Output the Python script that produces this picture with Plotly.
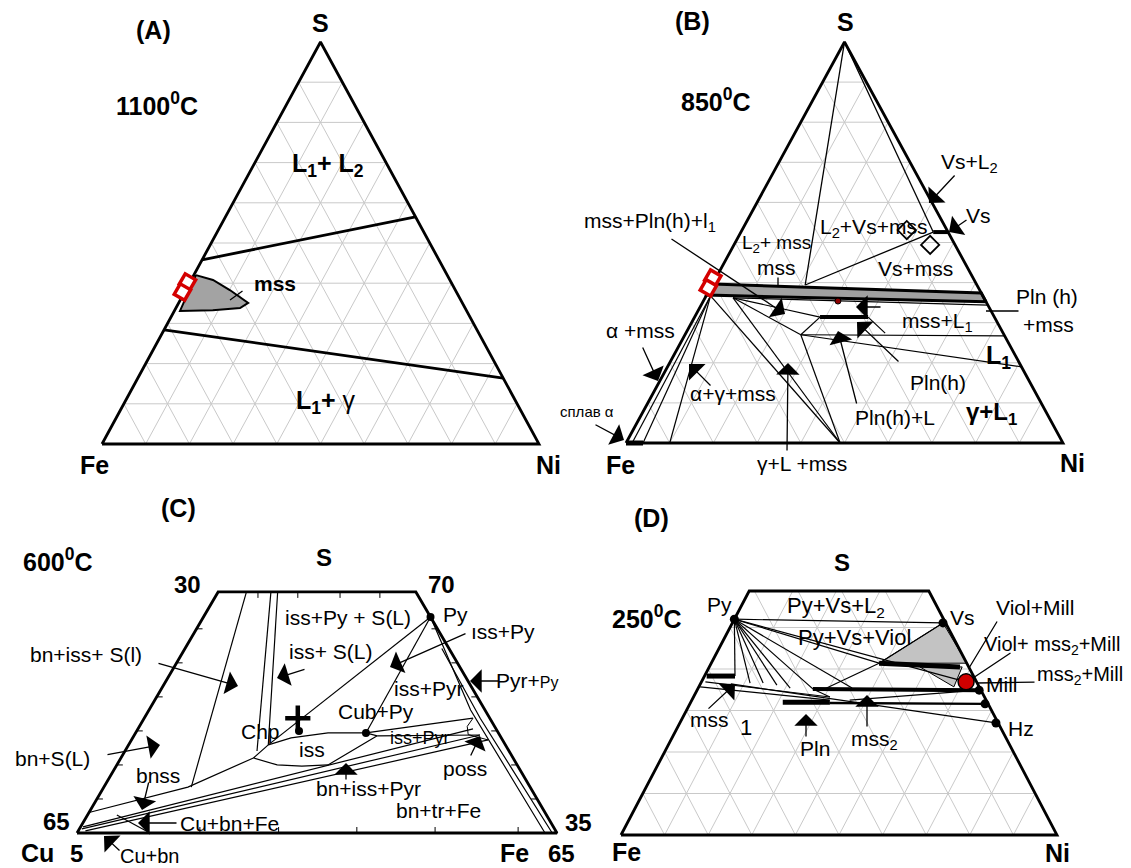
import plotly.graph_objects as go

# ---------------- panel frames (left base vertex x, base width, base y, full triangle height) ----
FRAME_A = (102, 437, 444, 402)
FRAME_B = (626, 437, 443, 401)
FRAME_C = (77, 480, 833, 410)
FRAME_D = (621, 436, 835, 415)
S_CUT = 58.8   # top cut (S %) of the partial diagrams C and D

# ---------------- data: compositions in %, (S = apex component, R = right-vertex component) ----
# Panel A (Fe-Ni-S, 1100 C)
A_UPPER_S, A_UPPER_NI = [45.8, 56.5], [0, 43.5]
A_LOWER_S, A_LOWER_NI = [28.4, 16.4], [0, 83.6]
A_MSS_S = [42.0, 40.8, 38.3, 35.1, 33.8, 33.3, 33.1, 42.0]
A_MSS_NI = [0.5, 5.0, 10.1, 15.9, 14.7, 8.7, 1.3, 0.5]
A_RED_S, A_RED_NI = [40.3, 37.8], [-0.6, -0.5]

# Panel B (Fe-Ni-S, 850 C)
B_APEX_S, B_APEX_NI = [100, 39.4], [0, 21.3]
B_L2_S, B_L2_NI = [100, 52.6], [0, 44.0]
B_TIE_S, B_TIE_NI = [39.4, 52.6], [21.3, 44.0]
B_VS_S, B_VS_NI = [52.6, 52.6], [44.0, 47.4]
B_BAND_S = [39.65, 37.4, 35.2, 36.9, 39.65]
B_BAND_NI = [0.0, 62.6, 64.8, 0.0, 0.0]
B_DIAM_S, B_DIAM_NI = [53.1, 49.4], [37.7, 44.9]
B_DOT_S, B_DOT_NI = [35.4], [30.8]
B_RED_S, B_RED_NI = [41.1, 38.7], [-0.7, -0.5]
B_PLN_S, B_PLN_NI = [31.4, 31.4], [28.7, 39.7]
B_ALLOY_S, B_ALLOY_NI = [0, 0], [0, 3.9]
B_THIN_S = [36.2, 34.4, None, 36.7, 0, None, 36.2, 0, None, 27.0, 0, None,
            36.2, 27.0, None, 36.2, 31.4, None, 27.0, 31.4, None, 27.0, 19.0, None,
            27.0, 26.7, None, 31.4, 27.4, None, 36.7, 0, None, 36.7, 0, None, 36.7, 0]
B_THIN_NI = [6.4, 65.6, None, 1.0, 49.0, None, 6.4, 49.0, None, 26.5, 49.0, None,
             6.4, 26.5, None, 6.4, 28.7, None, 26.5, 28.7, None, 26.5, 81.0, None,
             26.5, 73.3, None, 39.7, 45.6, None, 1.0, 3.9, None, 1.0, 10.0, None, 1.0, 1.4]

# Panel C (Cu-Fe-S, 600 C)  R = Fe
C_PY_S, C_PY_FE = [52.7], [47.3]
C_CROSS_S, C_CROSS_FE = [28.0], [32.0]
C_DOTS_S, C_DOTS_FE = [24.9, 24.4], [33.8, 48.0]
C_THIN_S = [58.8, 11.2, None, 58.8, 20.0, None, 58.8, 21.5, None,
            52.7, 21.5, None, 52.7, 24.4, None, 24.4, 28.0, None,
            5.0, 11.2, 18.3, None,
            1.5, 25.4, None, 1.0, 23.9, None, 0.5, 22.7, None,
            23.7, 23.9, None,
            52.7, 30.0, 0, None, 45.0, 28.0, 0, None, 4.4, 0]
C_THIN_FE = [5.9, 18.2, None, 11.0, 27.5, None, 12.4, 29.1, None,
             47.3, 29.1, None, 47.3, 48.0, None, 48.0, 68.5, None,
             0.0, 17.5, 27.6, None,
             0.5, 69.8, None, 0.5, 72.0, None, 1.5, 74.3, None,
             50.7, 72.0, None,
             47.3, 67.0, 97.5, None, 53.5, 70.0, 99.0, None, 6.1, 15.2]
C_LENS_S = [21.5, 23.2, 24.4, 24.4, 23.7, 20.7, 16.6, 16.3, 16.6, 18.3, 21.5]
C_LENS_FE = [29.1, 33.0, 40.1, 48.0, 50.7, 47.9, 44.0, 38.7, 33.4, 27.6, 29.1]
C_POSS_S, C_POSS_FE = [28.0, 26.0, 24.0, 22.7], [68.5, 68.3, 69.5, 74.3]
C_TICK_SIDE_S = [8.3, 16.6, 24.9, 33.2, 41.5, 49.8]
C_TICK_BOTTOM_FE = [25.6, 42.0, 58.3, 74.6, 91.9]
C_TICK_TOP_FE = [8.3, 16.6, 25.4, 33.7]

# Panel D (Fe-Ni-S, 250 C)
D_PY = (52.0, 0.0)
D_DOTS_S = [52.0, 51.1, 34.9, 31.6, 27.0]
D_DOTS_NI = [0.0, 48.3, 64.7, 67.7, 72.5]
D_RED_S, D_RED_NI = [36.9], [60.7]
D_GRAY1_S, D_GRAY1_NI = [51.1, 41.4, 41.4, 51.1], [48.3, 38.5, 58.6, 48.3]
D_GRAY2_S, D_GRAY2_NI = [40.5, 40.5, 35.7, 40.5], [48.3, 58.0, 58.5, 48.3]
D_BAR_S, D_BAR_NI = [41.4, 40.5], [38.5, 57.5]
D_MSS2_S, D_MSS2_NI = [35.2, 34.9], [26.4, 64.7]
D_PLN_S, D_PLN_NI = [32.0, 32.0], [21.1, 31.9]
D_PLN2_S, D_PLN2_NI = [31.8, 31.6], [31.9, 67.7]
D_MSS1_S, D_MSS1_NI = [38.3, 38.3], [0.5, 7.0]
D_FAN_END_S = [38.3, 36.6, 36.6, 36.1, 35.4, 35.2, 35.4, 41.4, 36.9, 51.1]
D_FAN_END_NI = [7.0, 11.3, 14.3, 17.7, 21.1, 26.4, 35.3, 38.5, 60.7, 48.3]
D_THIN_S = [36.9, 33.25, None, 35.7, 32.5, None, 41.4, 34.9, None, 36.4, 27.0, None,
            32.5, 34.9, None, 51.1, 41.4, None, 33.25, 35.2]
D_THIN_NI = [0.9, 31.3, None, 0.3, 31.6, None, 38.5, 28.6, None, 7.0, 72.5, None,
             36.2, 64.7, None, 48.3, 38.5, None, 31.3, 26.4]

FONT = "Liberation Sans, Arial, sans-serif"
fig = go.Figure()


def tern(frame, S, R):
    x0, w, yb, h = frame
    xs, ys = [], []
    for s, r in zip(S, R):
        if s is None or r is None:
            xs.append(None); ys.append(None)
        else:
            xs.append(x0 + w * (r + s / 2) / 100)
            ys.append(yb - h * s / 100)
    return xs, ys


def line(frame, S, R, width=1.0, color="black", fillcolor=None):
    xs, ys = tern(frame, S, R)
    fig.add_trace(go.Scatter(
        x=xs, y=ys, mode="lines", line=dict(color=color, width=width),
        fill="toself" if fillcolor else None, fillcolor=fillcolor,
        hoverinfo="skip", connectgaps=False))


def markers(frame, S, R, **mk):
    xs, ys = tern(frame, S, R)
    fig.add_trace(go.Scatter(x=xs, y=ys, mode="markers", marker=mk, hoverinfo="skip"))


def grid(frame, smax, step=10):
    S, R = [], []
    for k in range(step, 100, step):
        if k < smax:
            S += [k, k, None]; R += [0, 100 - k, None]
        st = min(100 - k, smax)
        S += [0, st, None]; R += [k, k, None]
        S += [0, st, None]; R += [100 - k, 100 - k - st, None]
    line(frame, S, R, width=1, color="#c9c9c9")


TRI_S, TRI_R = [0, 0, 100, 0], [0, 100, 0, 0]
TRAP_S, TRAP_R = [0, 0, S_CUT, S_CUT, 0], [0, 100, 100 - S_CUT, 0, 0]

# ---------------- Panel A ----------------
grid(FRAME_A, 100)
line(FRAME_A, A_MSS_S, A_MSS_NI, width=2, fillcolor="#a3a3a3")
line(FRAME_A, A_UPPER_S, A_UPPER_NI, width=2.8)
line(FRAME_A, A_LOWER_S, A_LOWER_NI, width=2.8)
line(FRAME_A, TRI_S, TRI_R, width=2.8)
markers(FRAME_A, A_RED_S, A_RED_NI, symbol="square", size=12, color="white",
        angle=30, line=dict(color="#d40000", width=3.5))

# ---------------- Panel B ----------------
grid(FRAME_B, 100)
line(FRAME_B, B_BAND_S, B_BAND_NI, width=3, fillcolor="#a0a0a0")
line(FRAME_B, B_THIN_S, B_THIN_NI, width=1.2)
line(FRAME_B, B_APEX_S, B_APEX_NI, width=1.3)
line(FRAME_B, B_L2_S, B_L2_NI, width=1.3)
line(FRAME_B, B_TIE_S, B_TIE_NI, width=1.3)
line(FRAME_B, B_VS_S, B_VS_NI, width=4)
line(FRAME_B, B_PLN_S, B_PLN_NI, width=4)
line(FRAME_B, B_ALLOY_S, B_ALLOY_NI, width=5)
line(FRAME_B, TRI_S, TRI_R, width=2.8)
markers(FRAME_B, B_DIAM_S, B_DIAM_NI, symbol="diamond-open", size=14,
        color="black", line=dict(color="black", width=1.8))
markers(FRAME_B, B_DOT_S, B_DOT_NI, symbol="circle", size=6, color="#8b0000",
        line=dict(color="black", width=1))
markers(FRAME_B, B_RED_S, B_RED_NI, symbol="square", size=12, color="white",
        angle=30, line=dict(color="#d40000", width=3.5))

# ---------------- Panel C ----------------
line(FRAME_C, C_THIN_S, C_THIN_FE, width=1.2)
line(FRAME_C, C_LENS_S, C_LENS_FE, width=1.2)
line(FRAME_C, C_POSS_S, C_POSS_FE, width=1.0)
xs_l, ys_l = tern(FRAME_C, C_TICK_SIDE_S, [0] * len(C_TICK_SIDE_S))
xs_r, ys_r = tern(FRAME_C, C_TICK_SIDE_S, [100 - s for s in C_TICK_SIDE_S])
xs_b, ys_b = tern(FRAME_C, [0] * len(C_TICK_BOTTOM_FE), C_TICK_BOTTOM_FE)
xs_t, ys_t = tern(FRAME_C, [S_CUT] * len(C_TICK_TOP_FE), C_TICK_TOP_FE)
tx, ty = [], []
for x, y in zip(xs_l, ys_l):
    tx += [x, x + 6, None]; ty += [y, y, None]
for x, y in zip(xs_r, ys_r):
    tx += [x, x - 6, None]; ty += [y, y, None]
for x, y in zip(xs_b, ys_b):
    tx += [x, x, None]; ty += [y, y - 6, None]
for x, y in zip(xs_t, ys_t):
    tx += [x, x, None]; ty += [y, y + 6, None]
fig.add_trace(go.Scatter(x=tx, y=ty, mode="lines", line=dict(color="black", width=1),
                         hoverinfo="skip"))
line(FRAME_C, TRAP_S, TRAP_R, width=2.8)
markers(FRAME_C, C_PY_S, C_PY_FE, symbol="circle", size=8, color="black")
markers(FRAME_C, C_DOTS_S, C_DOTS_FE, symbol="circle", size=8, color="black")
markers(FRAME_C, C_CROSS_S, C_CROSS_FE, symbol="cross-thin", size=18,
        line=dict(color="black", width=4.5))

# ---------------- Panel D ----------------
grid(FRAME_D, S_CUT)
line(FRAME_D, D_GRAY1_S, D_GRAY1_NI, width=1, fillcolor="#c3c3c3")
line(FRAME_D, D_GRAY2_S, D_GRAY2_NI, width=1, fillcolor="#c3c3c3")
fan_s, fan_n = [], []
for s, n in zip(D_FAN_END_S, D_FAN_END_NI):
    fan_s += [D_PY[0], s, None]; fan_n += [D_PY[1], n, None]
line(FRAME_D, fan_s, fan_n, width=1.2)
line(FRAME_D, D_THIN_S, D_THIN_NI, width=1.2)
line(FRAME_D, D_BAR_S, D_BAR_NI, width=5)
line(FRAME_D, D_MSS2_S, D_MSS2_NI, width=4)
line(FRAME_D, D_PLN_S, D_PLN_NI, width=5)
line(FRAME_D, D_PLN2_S, D_PLN2_NI, width=2.4)
line(FRAME_D, D_MSS1_S, D_MSS1_NI, width=5)
line(FRAME_D, TRAP_S, TRAP_R, width=2.8)
markers(FRAME_D, D_DOTS_S, D_DOTS_NI, symbol="circle", size=9, color="black")
markers(FRAME_D, D_RED_S, D_RED_NI, symbol="circle", size=16, color="#d00000",
        line=dict(color="black", width=1.5))

# ---------------- labels: (text, x, y, size) ----------------
LABELS = [
    # panel A
    ("<b>(A)</b>", 153, 30, 25), ("<b>S</b>", 320, 23, 25), ("<b>1100<sup>0</sup>C</b>", 157, 104, 25),
    ("<b>L<sub>1</sub>+ L<sub>2</sub></b>", 328, 165, 25), ("<b>mss</b>", 275, 283, 21),
    ("<b>L<sub>1</sub>+ </b>γ", 326, 402, 25), ("<b>Fe</b>", 94, 465, 25), ("<b>Ni</b>", 548, 465, 25),
    # panel B
    ("<b>(B)</b>", 692, 21, 25), ("<b>S</b>", 845, 22, 25), ("<b>850<sup>0</sup>C</b>", 716, 100, 25),
    ("Vs+L<sub>2</sub>", 969, 163, 21), ("Vs", 978, 215, 21), ("L<sub>2</sub>+Vs+mss", 873, 228, 21),
    ("mss+Pln(h)+l<sub>1</sub>", 650, 222, 21), ("L<sub>2</sub>+ mss", 776, 244, 19),
    ("mss", 776, 267, 21), ("Vs+mss", 915, 268, 21), ("Pln (h)", 1047, 296, 21),
    ("+mss", 1048, 324, 21), ("mss+L<sub>1</sub>", 937, 322, 21), ("<b>L<sub>1</sub></b>", 998, 357, 25),
    ("Pln(h)", 938, 382, 21), ("<b>γ+L<sub>1</sub></b>", 991, 413, 24), ("Pln(h)+L", 895, 417, 21),
    ("α+γ+mss", 733, 393, 21), ("α +mss", 640, 330, 21), ("сплав α", 587, 411, 15),
    ("γ+L +mss", 802, 463, 21), ("<b>Fe</b>", 620, 465, 25), ("<b>Ni</b>", 1072, 463, 25),
    # panel C
    ("<b>(C)</b>", 178, 508, 25), ("<b>600<sup>0</sup>C</b>", 58, 560, 25), ("<b>S</b>", 324, 557, 24),
    ("<b>30</b>", 187, 584, 24), ("<b>70</b>", 441, 584, 24), ("<b>65</b>", 56, 821, 24),
    ("<b>Cu</b>", 37, 853, 25), ("<b>5</b>", 76, 853, 24), ("<b>Fe</b>", 514, 853, 25),
    ("<b>65</b>", 561, 853, 24), ("<b>35</b>", 578, 822, 24),
    ("iss+Py + S(L)", 348, 617, 21), ("iss+ S(L)", 330, 651, 21), ("bn+iss+ S(l)", 86, 654, 21),
    ("Py", 455, 614, 21), ("ıss+Py", 503, 631, 21),
    ("Pyr+<span style='font-size:16px'>Py</span>", 527, 680, 21), ("iss+Pyr", 428, 688, 21),
    ("Cub+Py", 376, 711, 21), ("Chp", 260, 731, 21), ("iss", 312, 749, 21),
    ("iss+Pyr", 420, 738, 18), ("poss", 465, 768, 21), ("bn+S(L)", 52, 758, 21),
    ("bnss", 158, 775, 21), ("bn+iss+Pyr", 368, 788, 21), ("bn+tr+Fe", 438, 810, 21),
    ("Cu+bn+Fe", 229, 823, 21), ("Cu+bn", 150, 856, 20),
    # panel D
    ("<b>(D)</b>", 651, 518, 25), ("<b>S</b>", 842, 562, 24), ("<b>250<sup>0</sup>C</b>", 647, 617, 25),
    ("Py", 719, 604, 21), ("Py+Vs+L<sub>2</sub>", 836, 607, 22), ("Py+Vs+Viol", 854, 637, 22),
    ("Vs", 962, 617, 21), ("Viol+Mill", 1035, 607, 21), ("Viol+ mss<sub>2</sub>+Mill", 1052, 645, 20),
    ("Mill", 1002, 684, 21), ("mss<sub>2</sub>+Mill", 1080, 675, 20), ("Hz", 1021, 728, 21),
    ("mss", 709, 719, 21), ("1", 746, 727, 22), ("Pln", 815, 748, 21), ("mss<sub>2</sub>", 874, 740, 21),
    ("<b>Fe</b>", 626, 852, 25), ("<b>Ni</b>", 1057, 853, 25),
]

# pointer arrows / leader lines: (head x, head y, tail x, tail y, with head?)
ARROWS = [
    (230, 300, 244, 290, False),
    (929, 203, 956, 174, True), (949, 232, 968, 219, True), (785, 314, 670, 238, True),
    (658, 381, 642, 346, True), (624, 440, 594, 424, True), (689, 364, 712, 387, True),
    (788, 363, 787, 452, True), (838, 331, 857, 405, True), (857, 322, 900, 363, True),
    (856, 307, 882, 307, True), (986, 311, 1020, 311, False), (778, 285, 778, 276, False),
    (238, 686, 157, 663, True), (277, 678, 306, 669, True), (390, 667, 467, 633, True),
    (470, 681, 500, 681, True), (160, 745, 106, 755, True), (142, 810, 149, 781, True),
    (138, 823, 178, 823, True), (104, 836, 121, 852, True), (480, 736, 470, 757, True),
    (346, 763, 346, 781, True),
    (735, 684, 707, 710, True), (806, 714, 806, 738, True), (867, 695, 867, 728, True),
    (969, 668, 998, 620, False), (973, 678, 1012, 652, False), (977, 683, 1036, 682, False),
]

ann = []
for hx, hy, tx_, ty_, head in ARROWS:
    ann.append(dict(x=hx, y=hy, ax=tx_, ay=ty_, xref="x", yref="y", axref="x", ayref="y",
                    text="", showarrow=True, arrowhead=1 if head else 0,
                    arrowsize=3.0, arrowwidth=1.3, arrowcolor="black", standoff=0))
for t, x, y, sz in LABELS:
    ann.append(dict(x=x, y=y, xref="x", yref="y", text=t, showarrow=False,
                    font=dict(family=FONT, size=sz, color="black"),
                    xanchor="center", yanchor="middle"))

fig.update_layout(
    width=1131, height=868, margin=dict(l=0, r=0, t=0, b=0),
    paper_bgcolor="white", plot_bgcolor="white", showlegend=False,
    xaxis=dict(range=[0, 1131], visible=False, fixedrange=True),
    yaxis=dict(range=[868, 0], visible=False, fixedrange=True),
    annotations=ann,
)
fig.write_html("out.html", config={"displayModeBar": False},
               post_script="document.body.style.margin='0px';")
